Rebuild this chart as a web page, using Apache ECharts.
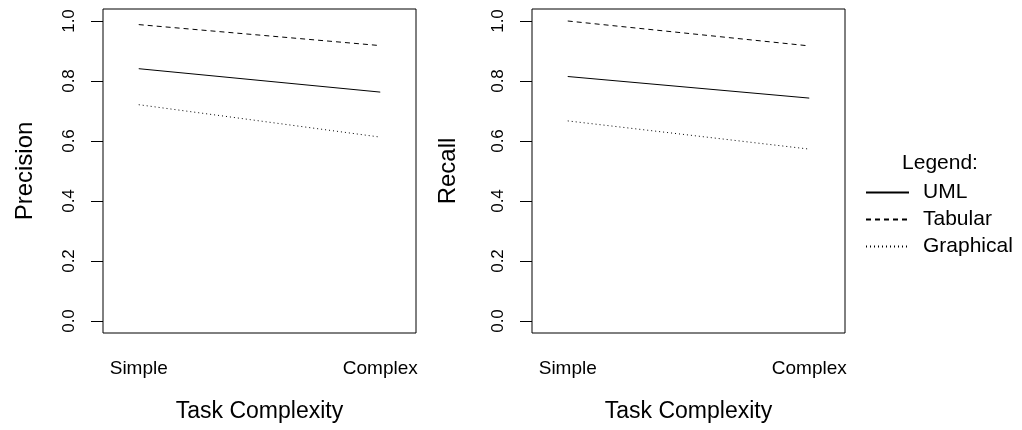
<!DOCTYPE html>
<html>
<head>
<meta charset="utf-8">
<script src="https://cdn.jsdelivr.net/npm/echarts@6/dist/echarts.min.js"></script>
<style>
html,body{margin:0;padding:0;background:#fff;}
#chart{width:1022px;height:430px;}
</style>
</head>
<body>
<div id="chart"></div>
<script>
var categories = ['Simple', 'Complex'];
var seriesNames = ['UML', 'Tabular', 'Graphical'];
var precisionUML = [0.841, 0.763];
var precisionTabular = [0.988, 0.918];
var precisionGraphical = [0.721, 0.613];
var recallUML = [0.815, 0.743];
var recallTabular = [1.0, 0.917];
var recallGraphical = [0.667, 0.573];
var yTicks = [0, 0.2, 0.4, 0.6, 0.8, 1.0];
var xPositions = [1, 2];

var FONT = 'Liberation Sans, Arial, Helvetica, sans-serif';
var lineTypes = { 'UML': 'solid', 'Tabular': [5, 4], 'Graphical': [1, 3] };

function toData(arr) {
  return arr.map(function (v, i) { return [xPositions[i], v]; });
}

function makeX(idx) {
  return {
    gridIndex: idx, type: 'value', min: 0.852, max: 2.148,
    name: 'Task Complexity', nameLocation: 'middle', nameGap: 67,
    nameTextStyle: { fontSize: 23, color: '#000', fontFamily: FONT },
    axisLine: { show: false }, axisTick: { show: false }, splitLine: { show: false },
    axisLabel: {
      customValues: xPositions, margin: 26, fontSize: 19, color: '#000', fontFamily: FONT,
      formatter: function (v) { var i = xPositions.indexOf(v); return i >= 0 ? categories[i] : ''; }
    }
  };
}
function makeY(idx, name, gap) {
  return {
    gridIndex: idx, type: 'value', min: -0.04, max: 1.04,
    name: name, nameLocation: 'middle', nameGap: gap, nameRotate: 90,
    nameTextStyle: { fontSize: 24, color: '#000', fontFamily: FONT },
    axisLine: { show: false }, splitLine: { show: false },
    axisTick: { show: true, customValues: yTicks, length: 12, lineStyle: { color: '#000', width: 1 } },
    axisLabel: {
      customValues: yTicks, rotate: 90, margin: 25, fontSize: 17, color: '#000', fontFamily: FONT,
      formatter: function (v) { return v.toFixed(1); }
    }
  };
}
function makeSeries(name, arr, idx) {
  return {
    name: name, type: 'line', xAxisIndex: idx, yAxisIndex: idx,
    data: toData(arr), symbol: 'none', silent: true, animation: false,
    lineStyle: { color: '#000', width: 1, type: lineTypes[name] },
    itemStyle: { color: '#000' }
  };
}

var chart = echarts.init(document.getElementById('chart'));
chart.setOption({
  animation: false,
  backgroundColor: '#fff',
  textStyle: { fontFamily: FONT },
  title: {
    text: 'Legend:', left: 935, top: 148, textAlign: 'center',
    textStyle: { fontSize: 21, fontWeight: 'normal', color: '#000', fontFamily: FONT }
  },
  legend: {
    data: seriesNames, orient: 'vertical', left: 860, top: 177,
    itemWidth: 43, itemHeight: 14, itemGap: 6,
    itemStyle: { opacity: 0 },
    textStyle: { fontSize: 21, color: '#000', fontFamily: FONT, padding: [0, 0, 0, 9] },
    inactiveColor: '#ccc'
  },
  grid: [
    { left: 103, top: 9, width: 313, height: 324, show: true, borderColor: '#000', borderWidth: 1, backgroundColor: 'transparent' },
    { left: 532, top: 9, width: 313, height: 324, show: true, borderColor: '#000', borderWidth: 1, backgroundColor: 'transparent' }
  ],
  xAxis: [makeX(0), makeX(1)],
  yAxis: [makeY(0, 'Precision', 66), makeY(1, 'Recall', 72)],
  series: [
    makeSeries('UML', precisionUML, 0),
    makeSeries('Tabular', precisionTabular, 0),
    makeSeries('Graphical', precisionGraphical, 0),
    makeSeries('UML', recallUML, 1),
    makeSeries('Tabular', recallTabular, 1),
    makeSeries('Graphical', recallGraphical, 1)
  ]
});
</script>
</body>
</html>
